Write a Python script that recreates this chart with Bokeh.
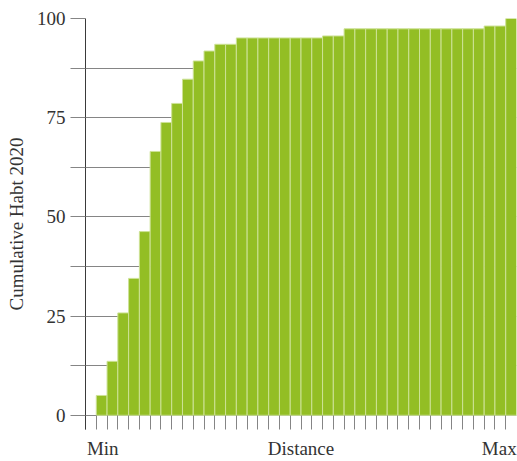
from bokeh.plotting import figure
from bokeh.models import FixedTicker, Range1d, ColumnDataSource
from bokeh.embed import file_html
from bokeh.resources import INLINE

# Data (cumulative share, %)
slots = list(range(40))
values = [0, 5.0, 13.6, 25.8, 34.5, 46.3, 66.5, 73.8, 78.6, 84.7,
          89.3, 91.8, 93.5, 93.5,
          95.1, 95.1, 95.1, 95.1, 95.1, 95.1, 95.1, 95.1,
          95.6, 95.6,
          97.4, 97.4, 97.4, 97.4, 97.4, 97.4, 97.4, 97.4, 97.4, 97.4, 97.4, 97.4, 97.4,
          98.1, 98.1,
          100.0]
y_ticks = [0, 12.5, 25, 37.5, 50, 62.5, 75, 87.5, 100]
y_labels = {0: "0", 25: "25", 50: "50", 75: "75", 100: "100"}
x_label_pos = [1.6, 20, 38.4]
x_labels = ["Min", "Distance", "Max"]
y_title = "Cumulative Habt 2020"

FONT = "Liberation Serif"
TXT = "#333333"
GRID = "#858585"
BAR = "#93be24"
EDGE = "#cde296"

src = ColumnDataSource(dict(
    x=[s + 0.5 for s in slots],
    top=values,
    lc=[EDGE if v > 0 else "rgba(0,0,0,0)" for v in values],
))

p = figure(width=517, height=461, output_backend="svg", toolbar_location=None,
           x_range=Range1d(0, len(slots)), y_range=Range1d(-3.58, 100),
           min_border_left=85, min_border_right=1, min_border_top=18,
           min_border_bottom=29)
p.outline_line_color = None
p.background_fill_color = "white"
p.border_fill_color = "white"

p.vbar(x="x", top="top", bottom=0, width=1.0, source=src,
       fill_color=BAR, line_color="lc", line_width=1)

# grid
p.xgrid.visible = False
p.ygrid.ticker = FixedTicker(ticks=y_ticks)
p.ygrid.grid_line_color = GRID
p.ygrid.grid_line_width = 1

# y axis
ya = p.yaxis[0]
ya.ticker = FixedTicker(ticks=y_ticks)
ya.major_label_overrides = {t: y_labels.get(t, "") for t in y_ticks}
ya.major_tick_out = 15
ya.major_tick_in = 0
ya.minor_tick_out = 0
ya.minor_tick_in = 0
ya.major_tick_line_color = GRID
ya.axis_line_color = "#3a3a3a"
ya.major_label_text_font = FONT
ya.major_label_text_font_size = "19px"
ya.major_label_text_color = TXT
ya.major_label_standoff = 5
ya.axis_label = y_title
ya.axis_label_text_font = FONT
ya.axis_label_text_font_size = "19px"
ya.axis_label_text_font_style = "normal"
ya.axis_label_text_color = TXT
ya.axis_label_standoff = 7

# x axis: minor ticks at slot boundaries, labels Min / Distance / Max
xa = p.xaxis[0]
xa.ticker = FixedTicker(ticks=x_label_pos, minor_ticks=slots)
xa.major_label_overrides = {t: s for t, s in zip(x_label_pos, x_labels)}
xa.major_tick_in = 0
xa.major_tick_out = 0
xa.minor_tick_in = 14
xa.minor_tick_out = 0
xa.minor_tick_line_color = GRID
xa.axis_line_color = None
xa.major_label_text_font = FONT
xa.major_label_text_font_size = "19px"
xa.major_label_text_color = TXT
xa.major_label_standoff = 8

open("out.html", "w").write(file_html(p, INLINE))
